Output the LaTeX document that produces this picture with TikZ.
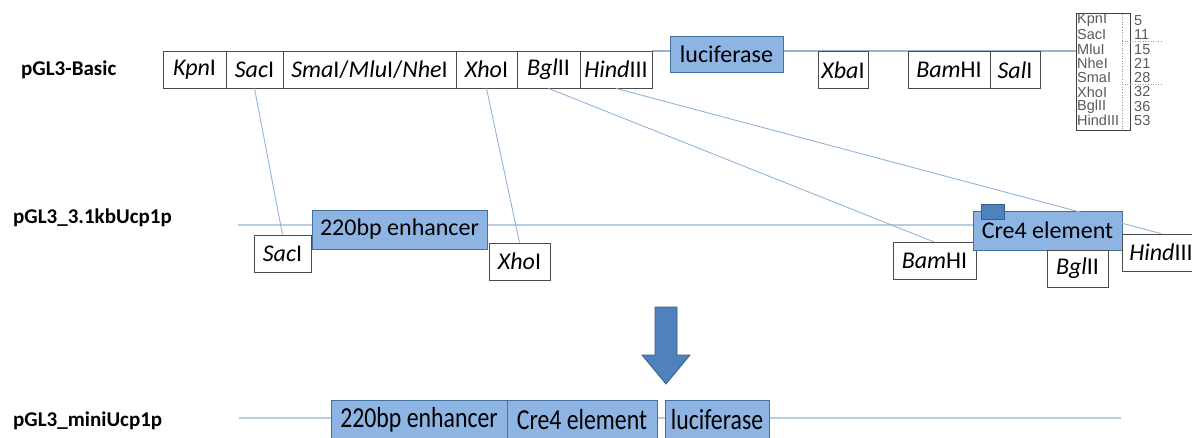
\documentclass[tikz,border=0pt]{standalone}
\usepackage{fontspec}
\usepackage{graphicx}
\setmainfont{Carlito}
\newfontfamily\tabfont{Liberation Sans}
\usetikzlibrary{calc}

\definecolor{boxfill}{HTML}{8EB4E3}
\definecolor{boxedge}{HTML}{41719C}
\definecolor{linkblue}{HTML}{95B3D7}
\definecolor{backbone}{HTML}{B9CDE5}
\definecolor{arrowfill}{HTML}{4F81BD}
\definecolor{arrowedge}{HTML}{385D8A}
\definecolor{tabgray}{HTML}{595959}

\newcommand\narrowtext[1]{\scalebox{0.82}[1]{#1}}

\begin{document}
\begin{tikzpicture}[x=1pt,y=-1pt,
  site/.style={draw=black!70, line width=0.8pt, fill=white, inner sep=0pt,
    minimum height=37pt, font=\fontsize{24}{25}\selectfont},
  gene/.style={draw=boxedge, line width=0.9pt, fill=boxfill, inner sep=0pt,
    font=\fontsize{24}{25}\selectfont},
  minigene/.style={gene, minimum height=40pt, font=\fontsize{29}{30}\selectfont},
  backbone/.style={draw=backbone, line width=2.2pt},
  topline/.style={draw=linkblue, line width=1.2pt},
  link/.style={draw=linkblue, line width=0.9pt},
  plasmid/.style={font=\fontsize{21}{22}\selectfont\bfseries, anchor=west, inner sep=0pt},
  tabname/.style={font=\tabfont\fontsize{14.5}{15}\selectfont, text=tabgray, anchor=west, inner sep=0pt},
  tabnum/.style={tabname},
  tabrule/.style={draw=black!40, dotted, line width=0.6pt}]
\useasboundingbox (0,0) rectangle (1192,437);

% ---- plasmid names ----
\node[plasmid] (basic) at (21,70) {pGL3-Basic};
\node[plasmid] (long)  at (13,218) {pGL3\_3.1kbUcp1p};
\node[plasmid] (mini)  at (13,421) {pGL3\_miniUcp1p};

% ---- pGL3-Basic multiple cloning site ----
\node[draw=black!75, line width=0.9pt, minimum width=54pt, minimum height=117pt, inner sep=0pt]
  (tab) at (1103,71.5) {};
\draw[topline] (652,51) -- (tab.west |- 0,51);
\node[site, minimum width=63pt]  (tKpn)  at (194.5,69.5) {\textit{Kpn}I};
\node[site, minimum width=57pt]  (tSac)  at (254.5,69.5) {\textit{Sac}I};
\node[site, minimum width=173pt] (tSma)  at (369.5,69.5) {\textit{Sma}I/\textit{Mlu}I/\textit{Nhe}I};
\node[site, minimum width=61pt]  (tXho)  at (486.5,69.5) {\textit{Xho}I};
\node[site, minimum width=63pt]  (tBgl)  at (548.5,69.5) {\textit{Bgl}II};
\node[site, minimum width=72pt]  (tHind) at (616,69.5)   {\textit{Hind}III};
\node[gene, minimum width=113pt, minimum height=36pt] (tLuc) at (726.5,54) {luciferase};
\node[site, minimum width=50pt]  (tXba)  at (843,70)   {\textit{Xba}I};
\node[site, minimum width=82pt]  (tBam)  at (949,70)   {\textit{Bam}HI};
\node[site, minimum width=50pt]  (tSal)  at (1015,70)  {\textit{Sal}I};

% site positions table
\draw[tabrule] (1122,14) -- (1122,129);
\draw[tabrule] (1122,41) -- (1162,41);
\draw[tabrule] (1122,84) -- (1162,84);
\foreach \n/\v [count=\i] in {KpnI/5,SacI/11,MluI/15,NheI/21,SmaI/28,XhoI/32,BglII/36,HindIII/53}{
  \node[tabname] (tn\i) at (1077,{20.5+14.3*(\i-1)}) {\n};
  \node[tabnum]  (tv\i) at (1134,{20.5+14.3*(\i-1)}) {\v};
}

% ---- pGL3_3.1kbUcp1p ----
\draw[backbone] (238,225) -- (1122,225);
\node[site, minimum width=57pt]  (bSac)  at (282.5,253.5) {\textit{Sac}I};
\node[gene, minimum width=175pt, minimum height=39pt] (bEnh) at (399.5,229.5) {220bp enhancer};
\node[site, minimum width=61pt]  (bXho)  at (519.5,261.5) {\textit{Xho}I};
\node[site, minimum width=83pt]  (bBam)  at (934.5,261)   {\textit{Bam}HI};
\node[gene, minimum width=149pt, minimum height=39pt] (bCre) at (1047.5,230.5) {Cre4 element};
\node[draw=arrowedge, fill=arrowfill, line width=0.8pt, minimum width=23pt, minimum height=15pt, inner sep=0pt]
  (bTag) at (992.5,211.5) {};
\node[site, minimum width=61pt]  (bBgl)  at (1077.5,268.5) {\textit{Bgl}II};
\node[site, minimum width=78pt]  (bHind) at (1161,252.5)  {\textit{Hind}III};

% fragments carried over from the vector
\draw[link] (tSac.south)  -- (bSac.north);
\draw[link] (tXho.south)  -- (bXho.north);
\draw[link] (tBgl.south)  -- (bBam.north);
\draw[link] (tHind.south) -- (bHind.north);

% ---- block arrow ----
\draw[fill=arrowfill, draw=arrowedge, line width=0.8pt]
  (655,307) -- (677,307) -- (677,355) -- (690,355) -- (666,384)
  -- (642,355) -- (655,355) -- cycle;

% ---- pGL3_miniUcp1p ----
\draw[backbone] (239,418) -- (1121,418);
\node[minigene, minimum width=176pt] (mEnh) at (419,420) {\narrowtext{220bp enhancer}};
\node[minigene, minimum width=150pt] (mCre) at (582,420) {\narrowtext{Cre4 element}};
\node[minigene, minimum width=104pt] (mLuc) at (717,420) {\narrowtext{luciferase}};
\end{tikzpicture}
\end{document}
